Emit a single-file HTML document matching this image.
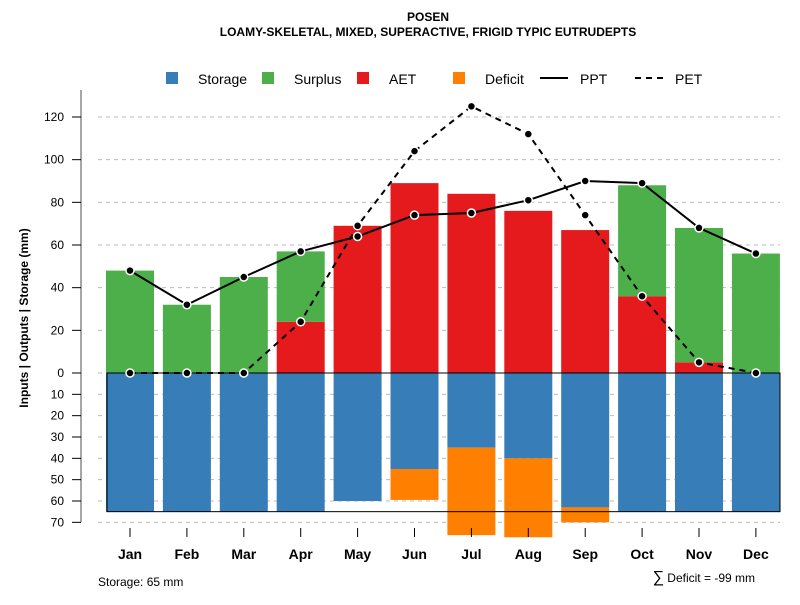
<!DOCTYPE html>
<html><head><meta charset="utf-8"><style>
body{margin:0;background:#fff;font-family:"Liberation Sans",Arial,sans-serif}
svg text{font-family:"Liberation Sans",Arial,sans-serif}
</style></head><body>
<svg id="c" width="800" height="600" xmlns="http://www.w3.org/2000/svg">
<text x="428" y="21" text-anchor="middle" font-size="12" font-weight="bold">POSEN</text>
<text x="428" y="36" text-anchor="middle" font-size="12" font-weight="bold">LOAMY-SKELETAL, MIXED, SUPERACTIVE, FRIGID TYPIC EUTRUDEPTS</text>
<g>
<rect x="166" y="72" width="12" height="12" fill="#377EB8"/>
<text x="198" y="84" font-size="14">Storage</text>
<rect x="262" y="72" width="12" height="12" fill="#4DAF4A"/>
<text x="294" y="84" font-size="14">Surplus</text>
<rect x="357" y="72" width="12" height="12" fill="#E41A1C"/>
<text x="389" y="84" font-size="14">AET</text>
<rect x="453" y="72" width="12" height="12" fill="#FF7F00"/>
<text x="485" y="84" font-size="14">Deficit</text>
<line x1="540" y1="78" x2="568" y2="78" stroke="#000" stroke-width="2"/>
<text x="580" y="84" font-size="14">PPT</text>
<line x1="635" y1="78" x2="663" y2="78" stroke="#000" stroke-width="2" stroke-dasharray="6,5"/>
<text x="675" y="84" font-size="14">PET</text>
</g>
<text transform="translate(28,318) rotate(-90)" text-anchor="middle" font-size="12" font-weight="bold">Inputs | Outputs | Storage    (mm)</text>
<g id="grid"></g><g id="bars"></g><g id="lines"></g><g id="axes"></g>
<text x="98" y="586" font-size="12">Storage: 65 mm</text>
<text x="755" y="582" text-anchor="end" font-size="12"><tspan font-size="16">∑</tspan> Deficit = -99 mm</text>
</svg>
<script>
const months=["Jan","Feb","Mar","Apr","May","Jun","Jul","Aug","Sep","Oct","Nov","Dec"];
const aet=[0,0,0,24,69,89,84,76,67,36,5,0];
const surplus=[48,32,45,33,0,0,0,0,0,52,63,56];
const storage=[65,65,65,65,60,45,35,40,63,65,65,65];
const deficit=[0,0,0,0,0,14.5,41,37,7,0,0,0];
const ppt=[48,32,45,57,64,74,75,81,90,89,68,56];
const pet=[0,0,0,24,69,104,125,112,74,36,5,0];
const upTicks=[0,20,40,60,80,100,120];
const downTicks=[10,20,30,40,50,60,70];
const capacity=65;
const NS="http://www.w3.org/2000/svg";
const y0=373,k=2.1333;
const yU=v=>y0-v*k, yD=v=>y0+v*k;
const xC=i=>130+i*56.9, bw=48;
function mk(t,a,p){const e=document.createElementNS(NS,t);for(const n in a)e.setAttribute(n,a[n]);document.getElementById(p).appendChild(e);return e;}
upTicks.concat(downTicks.map(v=>-v)).forEach(v=>{const y=v>=0?yU(v):yD(-v);
 const g=mk('line',{x1:98,x2:780,y1:y,y2:y,stroke:'#bbb','stroke-dasharray':'4,4'},'grid');
 
 });
months.forEach((m,i)=>{const x=xC(i)-bw/2;
 const parts=[[storage[i],'#377EB8',y0,'storage'],[deficit[i],'#FF7F00',yD(storage[i]),'deficit']];
 parts.forEach(p=>{if(p[0]>0){const r=mk('rect',{x:x,y:p[2],width:bw,height:p[0]*k,fill:p[1]},'bars');
  
  }});
 if(aet[i]>0){const r=mk('rect',{x:x,y:yU(aet[i]),width:bw,height:aet[i]*k,fill:'#E41A1C'},'bars');
  
  }
 if(surplus[i]>0){const r=mk('rect',{x:x,y:yU(aet[i]+surplus[i]),width:bw,height:surplus[i]*k,fill:'#4DAF4A'},'bars');
  
  }
});
const box=mk('rect',{x:107,y:y0,width:673,height:capacity*k,fill:'none',stroke:'#000','stroke-width':1},'bars');


[[ppt,'','ppt'],[pet,'6,5','pet']].forEach(s=>{
 const p=mk('polyline',{points:s[0].map((v,i)=>xC(i)+','+yU(v)).join(' '),fill:'none',stroke:'#000','stroke-width':2,'stroke-dasharray':s[1]},'lines');
 
 
 s[0].forEach((v,i)=>{const c=mk('circle',{cx:xC(i),cy:yU(v),r:4,fill:'#000',stroke:'#fff','stroke-width':1.5},'lines');
  
  });
});
const ax=mk('line',{x1:81,x2:81,y1:90,y2:522,stroke:'#888','stroke-width':1.5},'axes');


upTicks.concat(downTicks.map(v=>-v)).forEach(v=>{const y=v>=0?yU(v):yD(-v);
 const t=mk('line',{x1:72,x2:81,y1:y,y2:y,stroke:'#000'},'axes');
 
 
 const l=mk('text',{x:64,y:y+4,'text-anchor':'end','font-size':12},'axes');l.textContent=Math.abs(v);
 
 });
months.forEach((m,i)=>{const t=mk('line',{x1:xC(i),x2:xC(i),y1:528,y2:537,stroke:'#000'},'axes');
 
 
 const l=mk('text',{x:xC(i),y:559,'text-anchor':'middle','font-size':14,'font-weight':'bold'},'axes');l.textContent=m;
 
 });
</script>
</body></html>
